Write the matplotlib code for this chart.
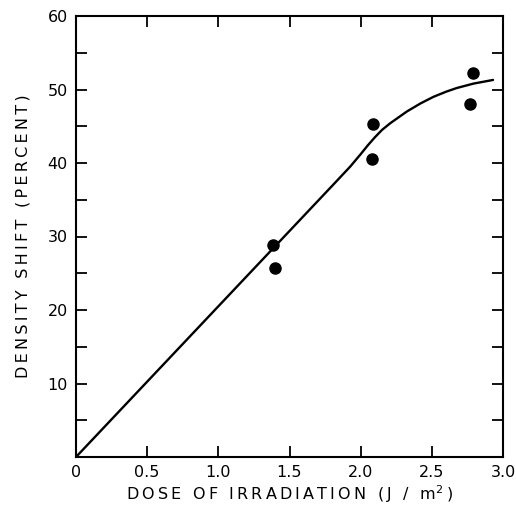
import matplotlib
matplotlib.use("Agg")
import matplotlib.pyplot as plt
from matplotlib.ticker import MultipleLocator

# data points
dose_pts = [1.387, 1.40, 2.09, 2.08, 2.77, 2.79]
shift_pts = [28.9, 25.75, 45.3, 40.6, 48.0, 52.2]

# fitted curve
curve_x = [0.0, 1.80, 1.926, 2.00, 2.05, 2.10, 2.15, 2.207, 2.324, 2.42, 2.511, 2.60, 2.675, 2.792, 2.93]
curve_y = [0.0, 36.9, 39.5, 41.2, 42.4, 43.5, 44.5, 45.4, 47.0, 48.1, 49.0, 49.7, 50.2, 50.8, 51.3]

xticks = [0, 0.5, 1.0, 1.5, 2.0, 2.5, 3.0]
xticklabels = ["0", "0.5", "1.0", "1.5", "2.0", "2.5", "3.0"]
yticks = [10, 20, 30, 40, 50, 60]
yticklabels = ["10", "20", "30", "40", "50", "60"]

def spaced(s, sep="\u2009"):
    return sep.join(s)

fig = plt.figure(figsize=(5.16, 5.05), dpi=100)
ax = fig.add_axes([76/516, 1 - 457/505, (503-76)/516, (457-16)/505])

ax.plot(curve_x, curve_y, color="black", lw=1.7, solid_capstyle="round", solid_joinstyle="round")
ax.plot(dose_pts, shift_pts, "o", color="black", markersize=8)

ax.set_xlim(0, 3.0)
ax.set_ylim(0, 60)
ax.set_xticks(xticks)
ax.set_xticklabels(xticklabels)
ax.set_yticks(yticks)
ax.set_yticklabels(yticklabels)
ax.yaxis.set_minor_locator(MultipleLocator(5))

ax.tick_params(which="both", direction="in", top=True, right=True, width=1.3, color="black")
ax.tick_params(which="major", length=8, labelsize=11.5, pad=6)
ax.tick_params(which="minor", length=8)
for s in ax.spines.values():
    s.set_linewidth(1.5)

ax.set_xlabel(spaced("DOSE OF IRRADIATION (J / m") + "$^2$" + "\u2009)", fontsize=11.5, labelpad=2)
ax.set_ylabel(spaced("DENSITY SHIFT (PERCENT)"), fontsize=11.5, labelpad=12)

fig.savefig("out.png", dpi=100)
